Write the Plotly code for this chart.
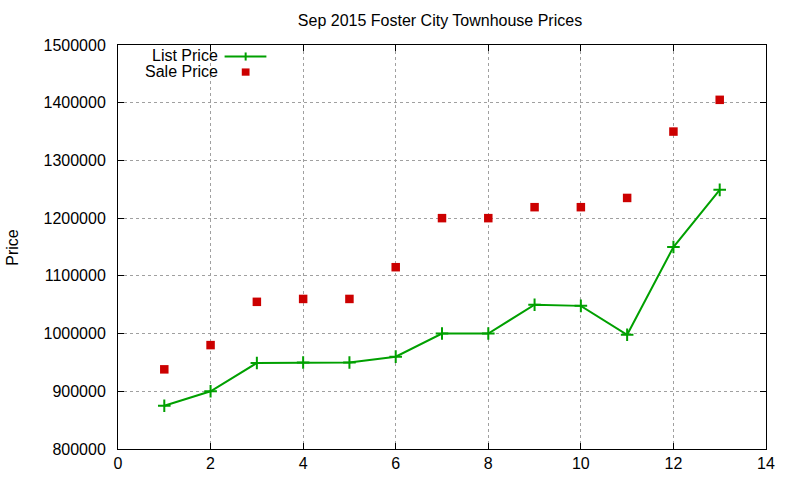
import plotly.graph_objects as go

# data
house = list(range(1, 14))
list_price = [875000, 900000, 949000, 950000, 950000, 960000, 1000000,
              1000000, 1050000, 1048000, 998000, 1150000, 1249000]
sale_price = [938000, 980000, 1055000, 1060000, 1060000, 1115000, 1200000,
              1200000, 1219000, 1219000, 1235000, 1350000, 1405000]

x_ticks = [0, 2, 4, 6, 8, 10, 12, 14]
y_ticks = [800000, 900000, 1000000, 1100000, 1200000, 1300000, 1400000, 1500000]

green = "#00a000"
red = "#cc0000"
font = "Liberation Sans, Arial, sans-serif"

fig = go.Figure()
fig.add_trace(go.Scatter(x=house, y=list_price, mode="lines+markers", name="List Price",
                         line=dict(color=green, width=2),
                         marker=dict(symbol="cross-thin", size=9, line=dict(color=green, width=2))))
fig.add_trace(go.Scatter(x=house, y=sale_price, mode="markers", name="Sale Price",
                         marker=dict(symbol="square", size=8.5, color=red)))

axis = dict(showline=True, linecolor="black", linewidth=1, mirror="ticks",
            ticks="inside", ticklen=6, tickcolor="black",
            showgrid=True, gridcolor="#a0a0a0", griddash="dot", gridwidth=1,
            zeroline=False, automargin=False,
            tickfont=dict(family=font, size=16, color="black"))

fig.update_xaxes(axis, range=[0, 14], tickvals=x_ticks, ticktext=[str(v) for v in x_ticks])
fig.update_yaxes(axis, range=[800000, 1500000], tickvals=y_ticks, ticktext=[str(v) for v in y_ticks],
                 ticklabelstandoff=8)

# y axis title, placed like gnuplot's
fig.add_annotation(xref="paper", yref="paper", x=-0.164, y=0.5, text="Price", textangle=-90,
                   showarrow=False, xanchor="center", yanchor="middle",
                   font=dict(family=font, size=16, color="black"))

# gnuplot-style key: text right-aligned, sample to the right
fig.add_annotation(xref="paper", yref="paper", x=0.158, y=0.9735, text="List Price",
                   showarrow=False, xanchor="right", yanchor="middle",
                   font=dict(family=font, size=16, color="black"))
fig.add_annotation(xref="paper", yref="paper", x=0.158, y=0.935, text="Sale Price",
                   showarrow=False, xanchor="right", yanchor="middle",
                   font=dict(family=font, size=16, color="black"))
fig.add_shape(type="line", xref="paper", yref="paper", x0=0.1645, x1=0.229, y0=0.9715, y1=0.9715,
              line=dict(color=green, width=2))
fig.add_shape(type="line", xref="paper", yref="paper", x0=0.197, x1=0.197, y0=0.9615, y1=0.9815,
              line=dict(color=green, width=2))
fig.add_shape(type="rect", xref="paper", yref="paper", x0=0.191, x1=0.203, y0=0.924, y1=0.942,
              line=dict(width=0), fillcolor=red)

fig.update_layout(
    width=800, height=480,
    title=dict(text="Sep 2015 Foster City Townhouse Prices", x=0.55, y=0.958, xanchor="center",
               yanchor="middle", font=dict(family=font, size=16, color="black")),
    showlegend=False,
    plot_bgcolor="white", paper_bgcolor="white",
    margin=dict(l=118, r=34, t=45, b=31),
)

fig.write_html("out.html", config={"displayModeBar": False},
               post_script="document.body.style.margin='0';")
